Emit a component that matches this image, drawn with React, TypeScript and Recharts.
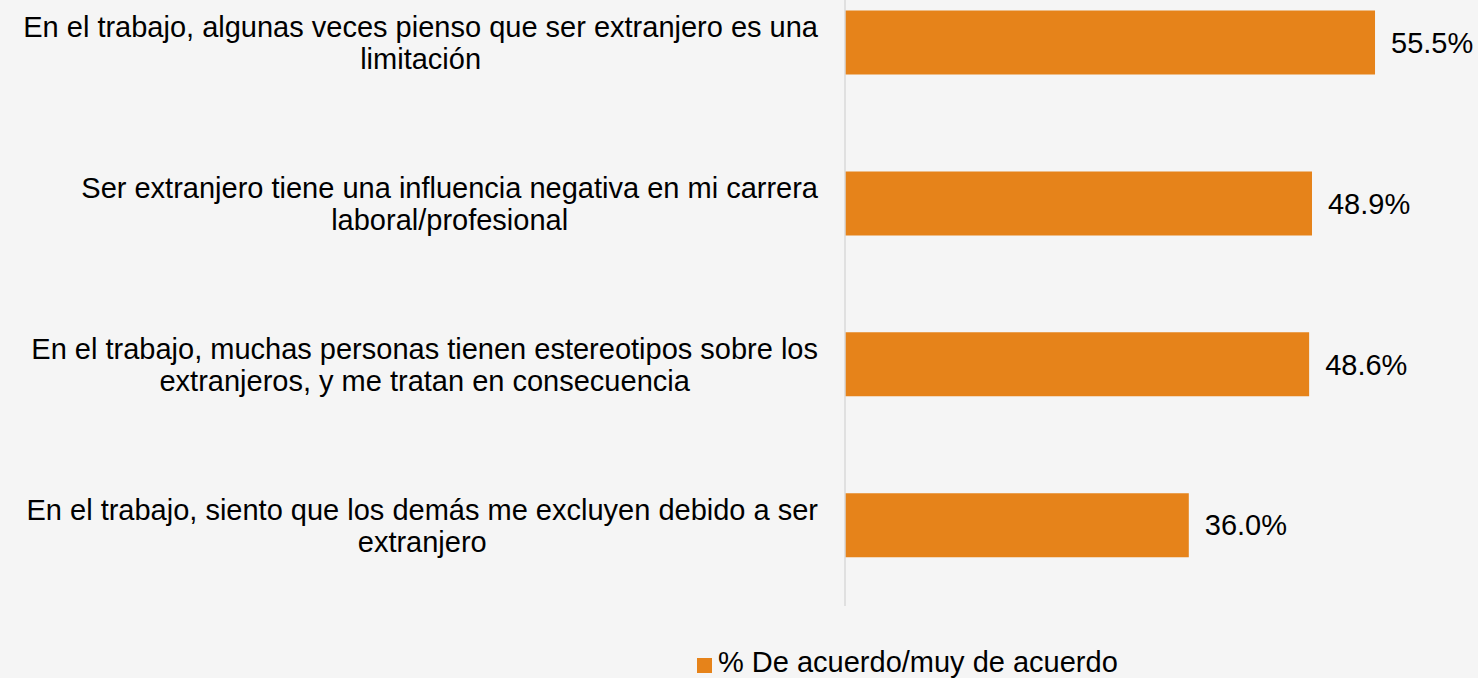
import React from "react";
import { BarChart, Bar, XAxis, YAxis, LabelList, Legend } from "recharts";

const categories = [
  "En el trabajo, algunas veces pienso que ser extranjero es una limitación",
  "Ser extranjero tiene una influencia negativa en mi carrera laboral/profesional",
  "En el trabajo, muchas personas tienen estereotipos sobre los extranjeros, y me tratan en consecuencia",
  "En el trabajo, siento que los demás me excluyen debido a ser extranjero",
];
const values = [55.5, 48.9, 48.6, 36.0];
const seriesName = "% De acuerdo/muy de acuerdo";

const data = categories.map((name, i) => ({ name, value: values[i] }));

const FONT = '"Liberation Sans", Arial, sans-serif';
const FS = 29;
const ORANGE = "#E6831A";

let ctx: CanvasRenderingContext2D | null = null;
const textWidth = (t: string) => {
  if (!ctx) ctx = document.createElement("canvas").getContext("2d");
  if (!ctx) return t.length * FS * 0.5;
  ctx.font = `${FS}px ${FONT}`;
  return ctx.measureText(t).width;
};

// wrap a category into lines no wider than max
const wrap = (text: string, max: number) => {
  const words = text.split(" ");
  const lines: string[] = [];
  let cur = "";
  words.forEach((w) => {
    const next = cur ? cur + " " + w : w;
    if (cur && textWidth(next) > max) {
      lines.push(cur);
      cur = w;
    } else cur = next;
  });
  if (cur) lines.push(cur);
  return lines;
};

const CategoryTick = (props: any) => {
  const { y, payload } = props;
  const lines = wrap(payload.value, 830);
  const blockW = Math.max(...lines.map(textWidth));
  const cx = 818 - blockW / 2;
  const lh = 32;
  const first = y + FS * 0.355 - ((lines.length - 1) * lh) / 2;
  return (
    <text x={cx} textAnchor="middle" fontSize={FS} fontFamily={FONT} fill="#000">
      {lines.map((l, i) => (
        <tspan key={i} x={cx} y={first + i * lh}>
          {l}
        </tspan>
      ))}
    </text>
  );
};

const LegendContent = () => (
  <div style={{ display: "flex", alignItems: "center", fontFamily: FONT, fontSize: FS, lineHeight: "30px", color: "#000", whiteSpace: "nowrap" }}>
    <span style={{ display: "inline-block", width: 15, height: 15, background: ORANGE, marginRight: 6 }} />
    <span style={{ position: "relative", top: -3 }}>{seriesName}</span>
  </div>
);

export default function App() {
  return (
    <div style={{ position: "absolute", left: 0, top: 0, width: 1478, height: 678, overflow: "hidden", background: "#f5f5f5" }}>
      <div style={{ position: "absolute", left: 0, top: -40 }}>
        <BarChart
          width={1478}
          height={730}
          data={data}
          layout="vertical"
          margin={{ top: 2.6, right: 60, bottom: 84, left: 0 }}
        >
          <XAxis type="number" domain={[0, 60]} hide />
          <YAxis
            type="category"
            dataKey="name"
            width={845}
            axisLine={{ stroke: "#d9d9d9", strokeWidth: 1.5 }}
            tickLine={false}
            tick={<CategoryTick />}
            interval={0}
          />
          <Legend
            layout="horizontal"
            verticalAlign="middle"
            align="center"
            content={<LegendContent />}
            wrapperStyle={{ left: 697, top: 690, width: 500, height: 30 }}
          />
          <Bar dataKey="value" name={seriesName} fill={ORANGE} barSize={64} isAnimationActive={false}>
            <LabelList
              dataKey="value"
              position="right"
              offset={16}
              formatter={(v: any) => `${Number(v).toFixed(1)}%`}
              style={{ fontSize: FS, fontFamily: FONT, fill: "#000" }}
            />
          </Bar>
        </BarChart>
      </div>
    </div>
  );
}
